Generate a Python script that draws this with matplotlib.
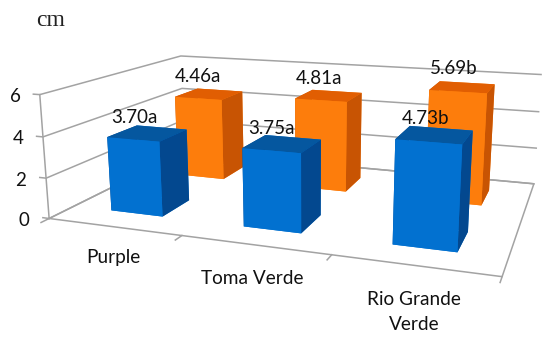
#!/usr/bin/env python3
import matplotlib
matplotlib.use("Agg")
import matplotlib.pyplot as plt
from mpl_toolkits.mplot3d.art3d import Line3D

# values
cultivars = ["Purple", "Toma Verde", "Rio Grande\nVerde"]
front_vals = [3.70, 3.75, 4.73]
back_vals = [4.46, 4.81, 5.69]
front_lbl = ["3.70a", "3.75a", "4.73b"]
back_lbl = ["4.46a", "4.81a", "5.69b"]
yticks = [0, 2, 4, 6]

# where the texts sit in the picture, in pixels
tick_pos = [(24, 220), (21, 180), (18, 138), (15, 96)]
front_pos = [(134, 118), (271, 129), (426, 119)]
back_pos = [(198, 77), (319, 78), (454, 69)]
cat_pos = [(113, 258), (252, 278), (414, 312)]

plt.rcParams["font.family"] = ["Lato", "DejaVu Sans"]

fig = plt.figure(figsize=(5.5, 3.44), dpi=100)
# camera fitted to the corners of the chart box in the reference
ax = fig.add_axes([0.0891, -0.1665, 0.9148, 1.4626], projection="3d")
ax.view_init(elev=13.68, azim=-70.41)
ax.set_proj_type("persp", focal_length=0.3125)
ax.set_box_aspect((3.543, 2.295, 1.0))
ax.set_axis_off()
ax.computed_zorder = False
ax.set_xlim(0, 3, view_margin=0)
ax.set_ylim(0, 2, view_margin=0)
ax.set_zlim(0, 6, view_margin=0)

grey = "#a3a3a3"
def line(xs, ys, zs):
    l = Line3D(xs, ys, zs, color=grey, lw=1.1, zorder=1)
    ax.add_line(l)
    l.set_clip_on(False)

# floor and walls
line([0, 3, 3, 0, 0], [0, 0, 2, 2, 0], [0, 0, 0, 0, 0])
line([0, 0], [0, 0], [0, 6])
for z in yticks:
    line([-0.05, 0, 0, 3], [0, 0, 2, 2], [z, z, z, z])
for x in range(4):
    line([x, x], [0, -0.09], [0, 0])

# bars, faces: bottom, top, front, back, left, right
def bar(i, y0, val, front, top, side, zo):
    colors = [front, top, front, front, side, side]
    b = ax.bar3d(i + 0.3, y0, 0, 0.4, 0.4, val, color=colors, shade=False,
                 edgecolor="none", zorder=zo)
    b.set_clip_on(False)

for i in range(3):
    bar(i, 1.3, back_vals[i], "#fd7d0c", "#e15e02", "#c85403", 2 + i * 0.1)
for i in range(3):
    bar(i, 0.3, front_vals[i], "#0271d0", "#05579f", "#03488f", 3 + i * 0.1)

fig.text(36 / 550, 1 - 20 / 344, "cm", family="Liberation Serif", fontsize=17,
         va="center", color="#222222")

for (x, y), z in zip(tick_pos, yticks):
    fig.text(x / 550, 1 - y / 344, str(z), ha="center", va="center", fontsize=13.5, color="#111111")
for (x, y), s in zip(front_pos, front_lbl):
    fig.text(x / 550, 1 - y / 344, s, ha="center", va="center", fontsize=13.5, color="#111111")
for (x, y), s in zip(back_pos, back_lbl):
    fig.text(x / 550, 1 - y / 344, s, ha="center", va="center", fontsize=13.5, color="#111111")
for (x, y), s in zip(cat_pos, cultivars):
    fig.text(x / 550, 1 - y / 344, s, ha="center", va="center", fontsize=13.7,
             linespacing=1.55, color="#111111")

fig.savefig("out.png", dpi=100)
